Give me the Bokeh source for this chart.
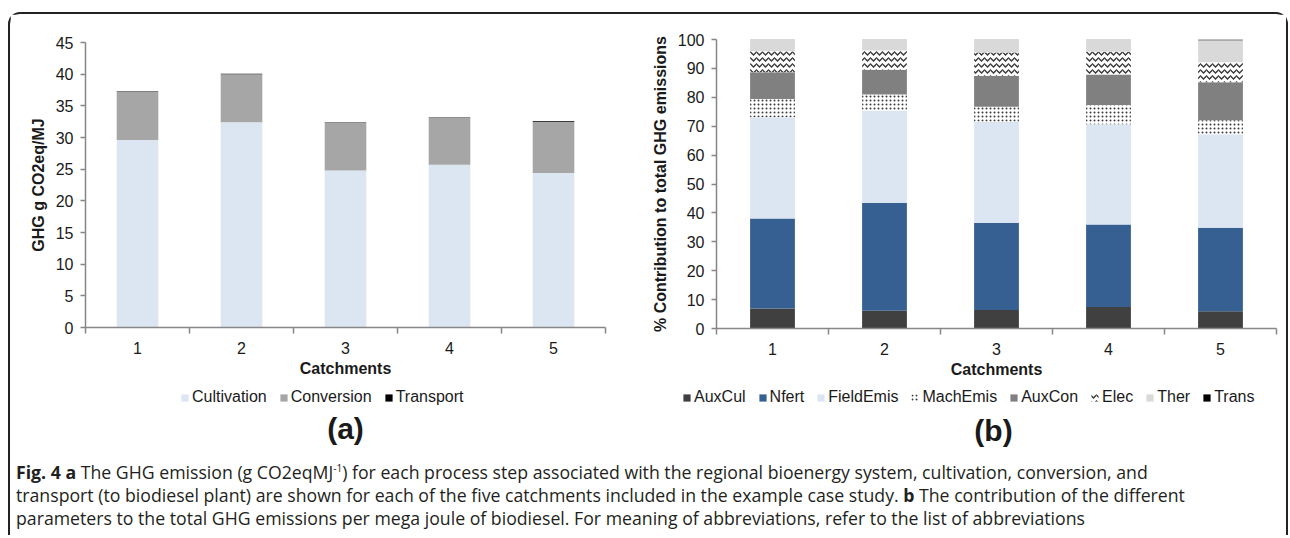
from bokeh.plotting import figure
from bokeh.models import (Range1d, FixedTicker, Legend, LegendItem, Label, Div,
                          ColumnDataSource)
from bokeh.layouts import row, column
from bokeh.embed import file_html
from bokeh.resources import INLINE

# ---------------- data ----------------
catchments = [1, 2, 3, 4, 5]
catchment_labels = ["1", "2", "3", "4", "5"]

# (a) GHG g CO2eq/MJ
names_a = ["Cultivation", "Conversion", "Transport"]
cultivation = [29.6, 32.4, 24.8, 25.7, 24.4]
conversion = [7.6, 7.6, 7.6, 7.5, 8.1]
transport = [0.05, 0.05, 0.05, 0.05, 0.1]

# (b) % contribution to total GHG emissions
names_b = ["AuxCul", "Nfert", "FieldEmis", "MachEmis", "AuxCon", "Elec", "Ther", "Trans"]
auxcul = [6.9, 6.1, 6.4, 7.4, 6.0]
nfert = [31.2, 37.3, 30.1, 28.6, 28.9]
fieldemis = [35.0, 32.0, 35.0, 34.7, 32.3]
machemis = [6.3, 5.6, 5.2, 6.6, 4.9]
auxcon = [9.3, 8.5, 10.7, 10.6, 13.1]
elec = [7.2, 6.7, 8.1, 7.9, 6.9]
ther = [4.0, 3.7, 4.4, 4.1, 7.6]
trans = [0.1, 0.1, 0.1, 0.1, 0.3]

yticks_a = [0, 5, 10, 15, 20, 25, 30, 35, 40, 45]
yticks_b = [0, 10, 20, 30, 40, 50, 60, 70, 80, 90, 100]

FONT = "Liberation Sans"
TXT = "#1a1a1a"
AX = "#868686"

style_a = dict(fill_color=["#dce6f2", "#a6a6a6", "#000000"], line_color=None)
style_b = dict(fill_color=["#404040", "#366092", "#dce6f2", "#ffffff",
                           "#808080", "#ffffff", "#d9d9d9", "#000000"],
               line_color=None,
               hatch_pattern=[" ", " ", " ", "dot", " ", "horizontal_wave", " ", " "],
               hatch_scale=[6, 6, 6, 4, 6, 6, 6, 6],
               hatch_weight=[1, 1, 1, 1, 1, 1.4, 1, 1],
               hatch_color="#3a3a3a")


def style_axes(p, yticks, ylabel):
    p.xaxis.ticker = FixedTicker(ticks=catchments,
                                 minor_ticks=[c - 0.5 for c in catchments] + [catchments[-1] + 0.5])
    p.xaxis.major_label_overrides = {c: l for c, l in zip(catchments, catchment_labels)}
    p.xaxis.major_tick_out = 0
    p.xaxis.major_tick_in = 0
    p.xaxis.minor_tick_out = 6
    p.xaxis.minor_tick_in = 0
    p.xaxis.minor_tick_line_color = AX
    p.xaxis.minor_tick_line_width = 1.5
    p.xaxis.axis_label = "Catchments"
    p.yaxis.ticker = FixedTicker(ticks=yticks, minor_ticks=[])
    p.yaxis.axis_label = ylabel
    p.yaxis.major_tick_out = 5
    p.yaxis.major_tick_in = 0
    for ax in (p.xaxis[0], p.yaxis[0]):
        ax.axis_line_color = AX
        ax.axis_line_width = 1.5
        ax.major_tick_line_color = AX
        ax.major_tick_line_width = 1.5
        ax.major_label_text_font = FONT
        ax.major_label_text_font_size = "16px"
        ax.major_label_text_color = TXT
        ax.axis_label_text_font = FONT
        ax.axis_label_text_font_size = "16px"
        ax.axis_label_text_font_style = "bold"
        ax.axis_label_text_color = TXT
    p.xaxis.major_label_standoff = 8
    p.xaxis.axis_label_standoff = 3
    p.yaxis.major_label_standoff = 7
    p.yaxis.axis_label_standoff = 6
    p.xgrid.visible = False
    p.ygrid.visible = False
    p.outline_line_color = None


def legend_fig(names, src, style, spacing, x_off, tag, tag_x, tag_y):
    # legend-only strip: keys refer to hidden copies of the stacked bars
    f = figure(width=638, height=80, output_backend="svg", toolbar_location=None,
               x_range=Range1d(0.5, 5.5), y_range=Range1d(0, 1),
               x_axis_type=None, y_axis_type=None, min_border=0)
    f.outline_line_color = None
    rs = f.vbar_stack(names, x="x", width=0.4, source=src, **style)
    for r in rs:
        r.visible = False
    lg = Legend(items=[LegendItem(label=n, renderers=[r]) for n, r in zip(names, rs)],
                orientation="horizontal", location=(x_off, 54),
                label_text_font=FONT, label_text_font_size="16px",
                label_text_color=TXT, glyph_width=9, glyph_height=9,
                label_standoff=3, spacing=spacing, padding=0, margin=0,
                border_line_color=None, background_fill_alpha=0,
                inactive_fill_alpha=0)
    f.add_layout(lg)
    f.add_layout(Label(x=tag_x, y=tag_y, x_units="screen", y_units="screen", text=tag,
                       text_align="center", text_baseline="middle", text_font=FONT,
                       text_font_size="30px", text_font_style="bold", text_color=TXT))
    return f


# ---------------- (a) ----------------
src_a = ColumnDataSource(dict(x=catchments, Cultivation=cultivation,
                              Conversion=conversion, Transport=transport))
p1 = figure(width=638, height=366, output_backend="svg", toolbar_location=None,
            x_range=Range1d(0.5, 5.5), y_range=Range1d(0, 45),
            min_border_left=75, min_border_right=43, min_border_top=28,
            min_border_bottom=53)
p1.vbar_stack(names_a, x="x", width=0.4, source=src_a, **style_a)
style_axes(p1, yticks_a, "GHG g CO2eq/MJ")
l1 = legend_fig(names_a, src_a, style_a, 12, 170, "(a)", 335, 32)

# ---------------- (b) ----------------
src_b = ColumnDataSource(dict(x=catchments, AuxCul=auxcul, Nfert=nfert,
                              FieldEmis=fieldemis, MachEmis=machemis, AuxCon=auxcon,
                              Elec=elec, Ther=ther, Trans=trans))
p2 = figure(width=638, height=366, output_backend="svg", toolbar_location=None,
            x_range=Range1d(0.5, 5.5), y_range=Range1d(0, 100),
            min_border_left=63, min_border_right=10, min_border_top=25,
            min_border_bottom=52)
p2.vbar_stack(names_b, x="x", width=0.4, source=src_b, **style_b)
style_axes(p2, yticks_b, "% Contribution to total GHG emissions")
l2 = legend_fig(names_b, src_b, style_b, 12, 34, "(b)", 345, 30)

caption = Div(
    text=("<b>Fig. 4 a</b> The GHG emission (g CO2eqMJ<sup style='font-size:10px'>-1</sup>) for each process step "
          "associated with the regional bioenergy system, cultivation, conversion, and<br>"
          "transport (to biodiesel plant) are shown for each of the five catchments included "
          "in the example case study. <b>b</b> The contribution of the different<br>"
          "parameters to the total GHG emissions per mega joule of biodiesel. For meaning of "
          "abbreviations, refer to the list of abbreviations"),
    width=1276, height=78, margin=(-3, 0, 0, 0),
    styles={"font-family": "Open Sans", "font-size": "17.7px", "line-height": "23px",
            "color": "#231f20", "white-space": "nowrap", "padding-left": "6px"})

layout = column(row(column(p1), column(p2)), row(l1, l2), caption, margin=(12, 0, 0, 8),
                styles={"border": "2px solid #222", "border-bottom": "none",
                        "border-radius": "12px 12px 0 0"})

open("out.html", "w").write(file_html(layout, INLINE))
